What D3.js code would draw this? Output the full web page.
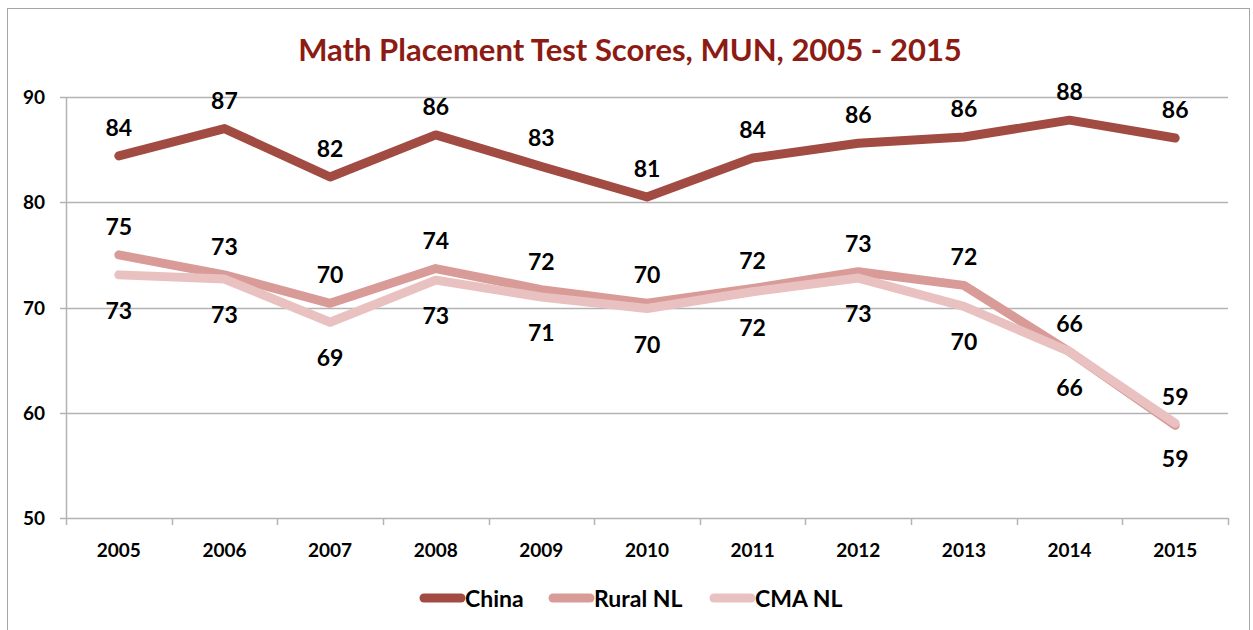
<!DOCTYPE html>
<html>
<head>
<meta charset="utf-8">
<script src="https://cdn.jsdelivr.net/npm/d3@7"></script>
<style>
  body { margin: 0; background: #fff; }
  svg { display: block; font-family: Lato, "Open Sans", sans-serif; }
</style>
</head>
<body>
<svg id="chart" width="1253" height="630"></svg>
<script>
// chart data
const years = ['2005', '2006', '2007', '2008', '2009', '2010', '2011', '2012', '2013', '2014', '2015'];
const china = [84.4, 87.0, 82.4, 86.4, 83.4, 80.5, 84.2, 85.6, 86.2, 87.8, 86.1];
const ruralNL = [75.0, 73.1, 70.4, 73.7, 71.7, 70.4, 71.8, 73.4, 72.1, 65.8, 58.8];
const cmaNL = [73.1, 72.7, 68.6, 72.6, 71.0, 69.9, 71.5, 72.8, 70.1, 65.8, 59.0];
const yTicks = [50, 60, 70, 80, 90];

const seriesList = [
    { name: 'China', values: china, color: '#a14b42', labelPos: 'above' },
    { name: 'Rural NL', values: ruralNL, color: '#d99b98', labelPos: 'above' },
    { name: 'CMA NL', values: cmaNL, color: '#e8c1c0', labelPos: 'below' }
];

const svg = d3.select('#chart');
const margin = { left: 66, right: 25, top: 97, bottom: 112 };
const width = 1253, height = 630;

// outer frame
svg.append('rect')
    .attr('x', 7.5).attr('y', 8.5)
    .attr('width', 1242).attr('height', 640)
    .attr('fill', 'none').attr('stroke', '#a6a6a6').attr('stroke-width', 1);

const x = d3.scaleBand().domain(years).range([margin.left, width - margin.right]);
const y = d3.scaleLinear().domain([50, 90]).range([height - margin.bottom, margin.top]);

// gridlines
svg.append('g')
    .selectAll('line')
    .data(yTicks)
    .enter()
    .append('line')
    .attr('x1', margin.left - 6)
    .attr('x2', width - margin.right)
    .attr('y1', d => Math.round(y(d)) + 0.5)
    .attr('y2', d => Math.round(y(d)) + 0.5)
    .style('stroke', '#b3b3b3')
    .style('stroke-width', '1.5px');

// y axis line
svg.append('line')
    .attr('x1', margin.left + 0.5).attr('x2', margin.left + 0.5)
    .attr('y1', y(90)).attr('y2', y(50) + 7)
    .style('stroke', '#b3b3b3').style('stroke-width', '1.5px');

// y tick labels
svg.append('g')
    .selectAll('text')
    .data(yTicks)
    .enter()
    .append('text')
    .attr('x', 45)
    .attr('y', d => y(d) + 7)
    .attr('text-anchor', 'end')
    .style('font-size', '19px')
    .style('font-weight', 'bold')
    .text(d => d);

// x axis ticks at band edges
const edges = years.map(d => x(d)).concat([x(years[years.length - 1]) + x.bandwidth()]);
svg.append('g')
    .selectAll('line')
    .data(edges.slice(1))
    .enter()
    .append('line')
    .attr('x1', d => Math.round(d) + 0.5)
    .attr('x2', d => Math.round(d) + 0.5)
    .attr('y1', y(50))
    .attr('y2', y(50) + 7)
    .style('stroke', '#b3b3b3')
    .style('stroke-width', '1.5px');

// x tick labels
svg.append('g')
    .selectAll('text')
    .data(years)
    .enter()
    .append('text')
    .attr('x', d => x(d) + x.bandwidth() / 2)
    .attr('y', y(50) + 39)
    .attr('text-anchor', 'middle')
    .style('font-size', '19px')
    .style('font-weight', 'bold')
    .text(d => d);

// lines, drawn back to front
const line = d3.line()
    .x((d, i) => x(years[i]) + x.bandwidth() / 2)
    .y(d => y(d));

seriesList.forEach(s => {
    svg.append('path')
        .datum(s.values)
        .attr('d', line)
        .attr('fill', 'none')
        .style('stroke', s.color)
        .style('stroke-width', '9px')
        .style('stroke-linecap', 'round')
        .style('stroke-linejoin', 'round');
});

// data labels
seriesList.forEach(s => {
    svg.append('g')
        .selectAll('text')
        .data(s.values)
        .enter()
        .append('text')
        .attr('x', (d, i) => x(years[i]) + x.bandwidth() / 2)
        .attr('y', d => s.labelPos === 'above' ? y(d) - 20 : y(d) + 44)
        .attr('text-anchor', 'middle')
        .style('font-size', '23px')
        .style('font-weight', 'bold')
        .text(d => Math.round(d));
});

// title
svg.append('text')
    .attr('x', 630)
    .attr('y', 61)
    .attr('text-anchor', 'middle')
    .style('font-size', '31px')
    .style('font-weight', 'bold')
    .style('fill', '#8c1b14')
    .text('Math Placement Test Scores, MUN, 2005 - 2015');

// legend
const legendX = [420, 549, 710];
const legend = svg.append('g')
    .selectAll('g')
    .data(seriesList)
    .enter()
    .append('g')
    .attr('transform', (d, i) => 'translate(' + legendX[i] + ',598)');

legend.append('line')
    .attr('x1', 4).attr('x2', 41)
    .attr('y1', 0).attr('y2', 0)
    .style('stroke', d => d.color)
    .style('stroke-width', '9px')
    .style('stroke-linecap', 'round');

legend.append('text')
    .attr('x', 45)
    .attr('y', 9)
    .style('font-size', '23px')
    .style('font-weight', 'bold')
    .text(d => d.name);
</script>
</body>
</html>
